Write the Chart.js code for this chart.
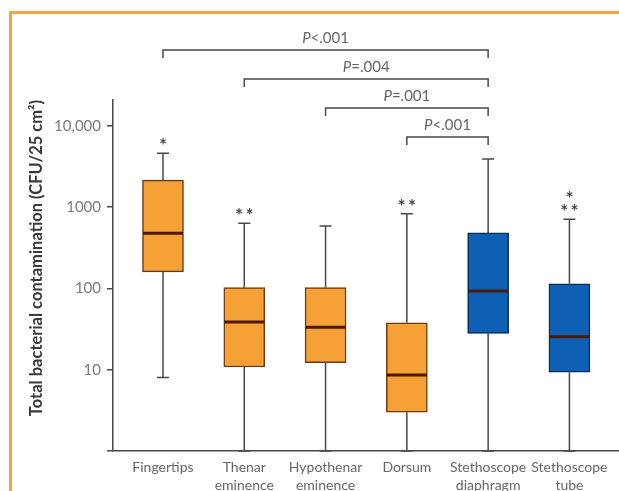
<!DOCTYPE html>
<html>
<head>
<meta charset="utf-8">
<script src="https://cdn.jsdelivr.net/npm/chart.js@4.4.1/dist/chart.umd.min.js"></script>
<style>
    html, body { margin: 0; padding: 0; background: #ffffff; }
    #wrap { width: 619px; height: 491px; }
</style>
</head>
<body>
<div id="wrap"><canvas id="box-chart" width="619" height="491"></canvas></div>
<script>
// Box plot data (CFU/25 cm2)
const categories = [
    ['Fingertips'],
    ['Thenar', 'eminence'],
    ['Hypothenar', 'eminence'],
    ['Dorsum'],
    ['Stethoscope', 'diaphragm'],
    ['Stethoscope', 'tube']
];
const groups = ['hand', 'hand', 'hand', 'hand', 'stethoscope', 'stethoscope'];
const whiskerLow = [8, 1, 1, 1, 1, 1];
const q1Values = [160, 10.8, 12.2, 3.0, 28, 9.3];
const medianValues = [476, 38.6, 33.3, 8.6, 93, 25.5];
const q3Values = [2150, 102, 102, 37.8, 484, 114];
const whiskerHigh = [4600, 632, 585, 830, 3900, 707];
const outlierMarks = [['*'], ['**'], [], ['**'], [], ['*', '**']];

// Significance brackets: [from, to] category index and P label
const comparisons = [[0, 4], [1, 4], [2, 4], [3, 4]];
const pLabels = ['<.001', '=.004', '=.001', '<.001'];

const yTicks = [1, 10, 100, 1000, 10000];
const yTitle = 'Total bacterial contamination (CFU/25 cm\u00B2)';

const COLORS = {
    hand: { fill: '#f5a136', border: '#6b3a14' },
    stethoscope: { fill: '#0e60b4', border: '#0b2a52' },
    median: '#4c1804',
    line: '#484848',
    tickText: '#7a7a7a',
    frame: '#f6a348'
};
const FONT = 'Lato, "Open Sans", sans-serif';

function formatTick(v) {
    if (v === 1) return '';
    return v >= 10000 ? v.toLocaleString('en-US') : String(v);
}

// Whiskers, medians, stars, brackets and frame drawn around the bars
const boxPlotExtras = {
    id: 'boxPlotExtras',
    beforeDraw(chart) {
        const ctx = chart.ctx;
        ctx.save();
        ctx.fillStyle = COLORS.frame;
        ctx.fillRect(9, 11, chart.width - 9, 3);
        ctx.fillRect(9, 11, 3, chart.height - 11);
        ctx.restore();
    },
    beforeDatasetsDraw(chart) {
        const { ctx, scales: { x, y } } = chart;
        ctx.save();
        ctx.strokeStyle = COLORS.line;
        ctx.lineWidth = 1.5;
        categories.forEach((c, i) => {
            const cx = x.getPixelForValue(i);
            const yHi = y.getPixelForValue(whiskerHigh[i]);
            const yLo = y.getPixelForValue(whiskerLow[i]);
            ctx.beginPath();
            ctx.moveTo(cx, y.getPixelForValue(q3Values[i]));
            ctx.lineTo(cx, yHi);
            ctx.moveTo(cx - 6, yHi);
            ctx.lineTo(cx + 6, yHi);
            ctx.moveTo(cx, y.getPixelForValue(q1Values[i]));
            ctx.lineTo(cx, yLo);
            ctx.moveTo(cx - 6, yLo);
            ctx.lineTo(cx + 6, yLo);
            ctx.stroke();
        });
        ctx.restore();
    },
    afterDatasetsDraw(chart) {
        const { ctx, scales: { x, y } } = chart;
        ctx.save();

        // medians
        ctx.strokeStyle = COLORS.median;
        ctx.lineWidth = 3;
        categories.forEach((c, i) => {
            const cx = x.getPixelForValue(i);
            const my = y.getPixelForValue(medianValues[i]);
            ctx.beginPath();
            ctx.moveTo(cx - 20, my);
            ctx.lineTo(cx + 20, my);
            ctx.stroke();
        });

        // outlier stars above the upper whisker
        ctx.fillStyle = COLORS.line;
        ctx.font = 'bold 19px ' + FONT;
        ctx.textAlign = 'center';
        ctx.textBaseline = 'alphabetic';
        outlierMarks.forEach((marks, i) => {
            const cx = x.getPixelForValue(i);
            const yHi = y.getPixelForValue(whiskerHigh[i]);
            marks.slice().reverse().forEach((m, k) => {
                ctx.fillText(m.split('').join('\u2009'), cx, yHi - 12 - k * 13 + 11);
            });
        });

        // significance brackets
        ctx.strokeStyle = COLORS.line;
        ctx.lineWidth = 1.5;
        comparisons.forEach((pair, k) => {
            const x1 = x.getPixelForValue(pair[0]);
            const x2 = x.getPixelForValue(pair[1]);
            const by = 50 + k * 29;
            ctx.beginPath();
            ctx.moveTo(x1, by + 8);
            ctx.lineTo(x1, by);
            ctx.lineTo(x2, by);
            ctx.lineTo(x2, by + 8);
            ctx.stroke();

            const italic = 'italic 15px ' + FONT;
            const normal = '15px ' + FONT;
            ctx.font = italic;
            const wP = ctx.measureText('P').width;
            ctx.font = normal;
            const wRest = ctx.measureText(pLabels[k]).width;
            const tx = (x1 + x2) / 2 - (wP + wRest) / 2;
            ctx.fillStyle = '#666666';
            ctx.textAlign = 'left';
            ctx.textBaseline = 'middle';
            ctx.font = italic;
            ctx.fillText('P', tx, by - 12);
            ctx.font = normal;
            ctx.fillText(pLabels[k], tx + wP, by - 12);
        });

        // y axis title
        ctx.translate(37, 258);
        ctx.rotate(-Math.PI / 2);
        ctx.fillStyle = '#3a3a3a';
        ctx.font = 'bold 16.5px ' + FONT;
        ctx.textAlign = 'center';
        ctx.textBaseline = 'middle';
        ctx.fillText(yTitle, 0, 0);
        ctx.restore();
    }
};

function renderBoxChart() {
    const ctx = document.getElementById('box-chart');
    new Chart(ctx, {
        type: 'bar',
        data: {
            datasets: [{
                data: categories.map((c, i) => ({ x: i, y: [q1Values[i], q3Values[i]] })),
                backgroundColor: groups.map(g => COLORS[g].fill),
                borderColor: groups.map(g => COLORS[g].border),
                borderWidth: 1.5,
                borderSkipped: false,
                barThickness: 41
            }]
        },
        options: {
            responsive: false,
            animation: false,
            devicePixelRatio: 1,
            layout: { padding: { top: 100, left: 0, right: 0, bottom: 0 } },
            plugins: {
                legend: { display: false },
                tooltip: { enabled: false }
            },
            scales: {
                x: {
                    type: 'linear',
                    min: -0.615,
                    max: 5.61,
                    offset: false,
                    grid: { display: false, drawTicks: false, offset: false },
                    border: { display: true, color: COLORS.line, width: 1.5 },
                    afterBuildTicks: (scale) => {
                        scale.ticks = categories.map((c, i) => ({ value: i }));
                    },
                    afterFit: (scale) => { scale.height = 40; },
                    ticks: {
                        autoSkip: false,
                        maxRotation: 0,
                        padding: 7,
                        color: '#666666',
                        font: { family: FONT, size: 14, lineHeight: 1.3 },
                        callback: (v) => categories[v]
                    }
                },
                y: {
                    type: 'logarithmic',
                    min: 1,
                    max: 20760,
                    grid: {
                        display: true,
                        drawOnChartArea: false,
                        drawTicks: true,
                        tickLength: 6,
                        color: COLORS.line,
                        lineWidth: 1.5
                    },
                    border: { display: true, color: COLORS.line, width: 1.5 },
                    afterBuildTicks: (scale) => {
                        scale.ticks = yTicks.map(v => ({ value: v }));
                    },
                    afterFit: (scale) => { scale.width = 113; },
                    ticks: {
                        padding: 6,
                        color: COLORS.tickText,
                        font: { family: FONT, size: 15 },
                        callback: (v) => formatTick(v)
                    }
                }
            }
        },
        plugins: [boxPlotExtras]
    });
}

renderBoxChart();
</script>
</body>
</html>
